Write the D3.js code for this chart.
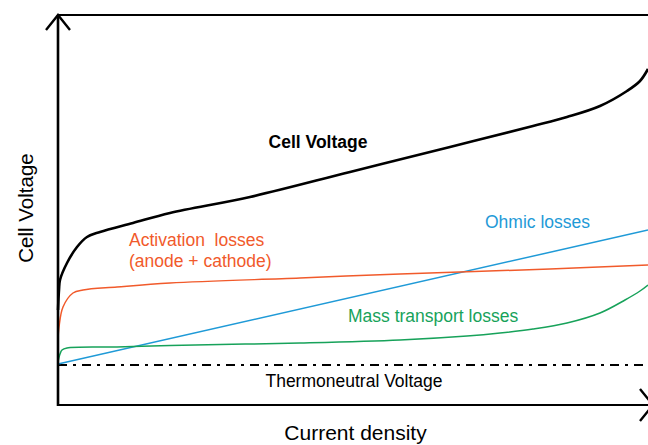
<!DOCTYPE html>
<html>
<head>
<meta charset="utf-8">
<script src="https://cdn.jsdelivr.net/npm/d3@7"></script>
<style>
  html, body { margin: 0; padding: 0; background: #fff; }
  svg { display: block; }
  text { font-family: "Liberation Sans", Arial, sans-serif; }
</style>
</head>
<body>
<svg id="chart" width="648" height="445"></svg>
<script>
// Current density (arbitrary units) and voltages (arbitrary units)
const cellVoltage = [
  [0, 0.95], [0.01, 1.15], [0.02, 1.25], [0.09, 1.42], [0.19, 1.58], [0.29, 1.68],
  [0.42, 1.73], [0.75, 1.82], [1.12, 1.92], [1.92, 2.08], [2.92, 2.33], [3.92, 2.58],
  [4.75, 2.79], [5.09, 2.88], [5.42, 2.99], [5.69, 3.14], [5.82, 3.24], [5.90, 3.36]
];
const activationLosses = [
  [0, 0.65], [0.01, 0.78], [0.05, 0.98], [0.15, 1.12], [0.25, 1.15], [0.59, 1.18],
  [1.12, 1.22], [2.42, 1.27], [3.42, 1.31], [4.92, 1.36], [5.90, 1.40]
];
const massTransportLosses = [
  [0, 0.43], [0.02, 0.51], [0.04, 0.55], [0.09, 0.57], [0.59, 0.58], [1.12, 0.595],
  [2.42, 0.62], [3.42, 0.65], [4.09, 0.69], [4.42, 0.72], [4.75, 0.76], [5.09, 0.82],
  [5.42, 0.92], [5.67, 1.05], [5.82, 1.14], [5.90, 1.20]
];
const ohmicLosses = [[0, 0.41], [5.90, 1.75]];
const thermoneutral = [[0, 0.40], [5.90, 0.40]];

const labels = {
  cell: "Cell Voltage",
  act1: "Activation  losses",
  act2: "(anode + cathode)",
  ohmic: "Ohmic losses",
  mass: "Mass transport losses",
  thermo: "Thermoneutral Voltage",
  xTitle: "Current density",
  yTitle: "Cell Voltage"
};

const svg = d3.select("#chart");
const x = d3.scaleLinear().domain([0, 5.87]).range([58, 645]);
const y = d3.scaleLinear().domain([0, 3.9]).range([405, 15]);

const line = d3.line().x(d => x(d[0])).y(d => y(d[1])).curve(d3.curveCatmullRom.alpha(0.5));

const colors = { black: "#000", orange: "#F15A2B", blue: "#1F9AD7", green: "#17A25A" };

// Thermoneutral dash-dot
svg.append("path").attr("d", d3.line().x(d => x(d[0])).y(d => y(d[1]))(thermoneutral))
  .attr("fill", "none").attr("stroke", "#000").attr("stroke-width", 2)
  .attr("stroke-dasharray", "9,6,3,6");

// Series
svg.append("path").attr("d", line(ohmicLosses)).attr("fill", "none")
  .attr("stroke", colors.blue).attr("stroke-width", 1.5);
svg.append("path").attr("d", line(massTransportLosses)).attr("fill", "none")
  .attr("stroke", colors.green).attr("stroke-width", 1.5);
svg.append("path").attr("d", line(activationLosses)).attr("fill", "none")
  .attr("stroke", colors.orange).attr("stroke-width", 1.5);
svg.append("path").attr("d", line(cellVoltage)).attr("fill", "none")
  .attr("stroke", colors.black).attr("stroke-width", 2.6);

// Axes frame
const x0 = x(0), yTop = y(3.9), yBot = y(0);
svg.append("line").attr("x1", x0).attr("y1", yTop).attr("x2", x0).attr("y2", yBot + 1)
  .attr("stroke", "#000").attr("stroke-width", 2.6);
svg.append("line").attr("x1", x0).attr("y1", yTop).attr("x2", 648).attr("y2", yTop)
  .attr("stroke", "#000").attr("stroke-width", 2.2);
svg.append("line").attr("x1", x0 - 1).attr("y1", yBot).attr("x2", 650).attr("y2", yBot)
  .attr("stroke", "#000").attr("stroke-width", 2.2);
// arrowheads
svg.append("path").attr("d", `M${x0 - 12},${yTop + 15} L${x0},${yTop} L${x0 + 12},${yTop + 15}`)
  .attr("fill", "none").attr("stroke", "#000").attr("stroke-width", 2.4);
svg.append("path").attr("d", `M640,${yBot - 16} L653,${yBot} L640,${yBot + 16}`)
  .attr("fill", "none").attr("stroke", "#000").attr("stroke-width", 2.4);

// Labels
svg.append("text").attr("x", 318).attr("y", 148).attr("text-anchor", "middle")
  .attr("font-size", 17.5).attr("font-weight", "bold").attr("fill", "#000").text(labels.cell);
svg.append("text").attr("x", 129).attr("y", 246).attr("font-size", 17.5)
  .attr("fill", colors.orange).style("white-space", "pre").text(labels.act1);
svg.append("text").attr("x", 129).attr("y", 267).attr("font-size", 17.5)
  .attr("fill", colors.orange).text(labels.act2);
svg.append("text").attr("x", 485).attr("y", 228).attr("font-size", 17.5)
  .attr("fill", colors.blue).text(labels.ohmic);
svg.append("text").attr("x", 348).attr("y", 322).attr("font-size", 17.5)
  .attr("fill", colors.green).text(labels.mass);
svg.append("text").attr("x", 354).attr("y", 387).attr("text-anchor", "middle")
  .attr("font-size", 17.5).attr("fill", "#000").text(labels.thermo);
svg.append("text").attr("x", 355.5).attr("y", 440).attr("text-anchor", "middle")
  .attr("font-size", 21).attr("fill", "#000").text(labels.xTitle);
svg.append("text").attr("transform", "translate(33,208) rotate(-90)").attr("text-anchor", "middle")
  .attr("font-size", 20.5).attr("fill", "#000").text(labels.yTitle);
</script>
</body>
</html>
